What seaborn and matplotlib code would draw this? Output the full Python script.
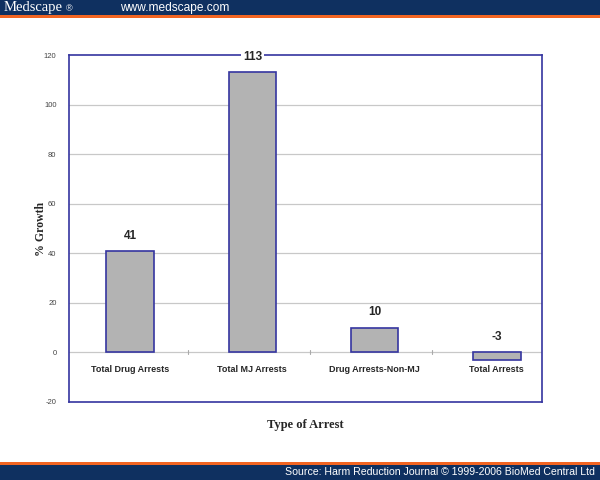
import matplotlib
matplotlib.use("Agg")
import matplotlib.pyplot as plt
import seaborn as sns
import pandas as pd
from matplotlib.patches import Rectangle

categories = ["Total Drug Arrests", "Total MJ Arrests", "Drug Arrests-Non-MJ", "Total Arrests"]
growth = [41, 113, 10, -3]
yticks = [-20, 0, 20, 40, 60, 80, 100, 120]

df = pd.DataFrame({"Type of Arrest": categories, "% Growth": growth})

sns.set_style("white")
plt.rcParams["font.family"] = ["Liberation Sans", "DejaVu Sans"]

navy = "#3535a0"
fig = plt.figure(figsize=(6, 4.8), dpi=100)

# header / footer bands
fig.add_artist(Rectangle((0, 1 - 15 / 480), 1, 15 / 480, transform=fig.transFigure, color="#0f3060", lw=0))
fig.add_artist(Rectangle((0, 1 - 18 / 480), 1, 3 / 480, transform=fig.transFigure, color="#f26522", lw=0))
fig.add_artist(Rectangle((0, 0), 1, 15 / 480, transform=fig.transFigure, color="#0f3060", lw=0))
fig.add_artist(Rectangle((0, 15 / 480), 1, 3 / 480, transform=fig.transFigure, color="#f26522", lw=0))
fig.text(4 / 600, 1 - 8 / 480, "Medscape", family="Liberation Serif", color="white", fontsize=10.5, va="center")
fig.text(66 / 600, 1 - 8.5 / 480, "®", family="Liberation Sans", color="white", fontsize=6.5, va="center")
fig.text(120 / 600, 1 - 8 / 480, "www.medscape.com", color="white", fontsize=8.6, va="center")
fig.text(595 / 600, 8 / 480, "Source: Harm Reduction Journal © 1999-2006 BioMed Central Ltd",
         color="white", fontsize=7.6, va="center", ha="right")

ax = fig.add_axes([69 / 600, 1 - 402 / 480, 473 / 600, 347 / 480])
sns.barplot(data=df, x="Type of Arrest", y="% Growth", color="#b3b3b3",
            edgecolor=navy, linewidth=1.2, width=0.39, saturation=1, ax=ax)

ax.set_ylim(-20, 120)
ax.set_xlim(-0.5, 3.37)
ax.set_yticks(yticks)
ax.set_yticklabels([str(t) for t in yticks], fontsize=5.5, color="#444444")
ax.tick_params(axis="y", length=3, color="#999999", pad=6)
for t in yticks[1:-1]:
    ax.axhline(t, color="#c8c8c8", lw=0.9, zorder=0)

ax.set_xticks([])
for i, (cat, v) in enumerate(zip(categories, growth)):
    ax.annotate(cat, (i, 0), xytext=(0, -12), textcoords="offset points",
                ha="center", va="center", fontsize=6.5, fontweight="bold")
    ax.annotate(str(v), (i, max(v, 0)), xytext=(0, 11), textcoords="offset points",
                ha="center", va="center", fontsize=8.5, fontweight="bold", zorder=5,
                bbox=dict(boxstyle="square,pad=0.15", fc="white", ec="none"),
                annotation_clip=False)
for i in range(len(categories) - 1):
    ax.plot([i + 0.47, i + 0.47], [-0.8, 0.8], color="#aaaaaa", lw=0.8)

for s in ax.spines.values():
    s.set_color(navy)
    s.set_linewidth(1.2)
    s.set_visible(True)

ax.set_ylabel("% Growth", family="Liberation Serif", fontweight="bold", fontsize=8.5, labelpad=-2)
ax.set_xlabel("Type of Arrest", family="Liberation Serif", fontweight="bold", fontsize=9, labelpad=12)

fig.savefig("out.png", dpi=100)
